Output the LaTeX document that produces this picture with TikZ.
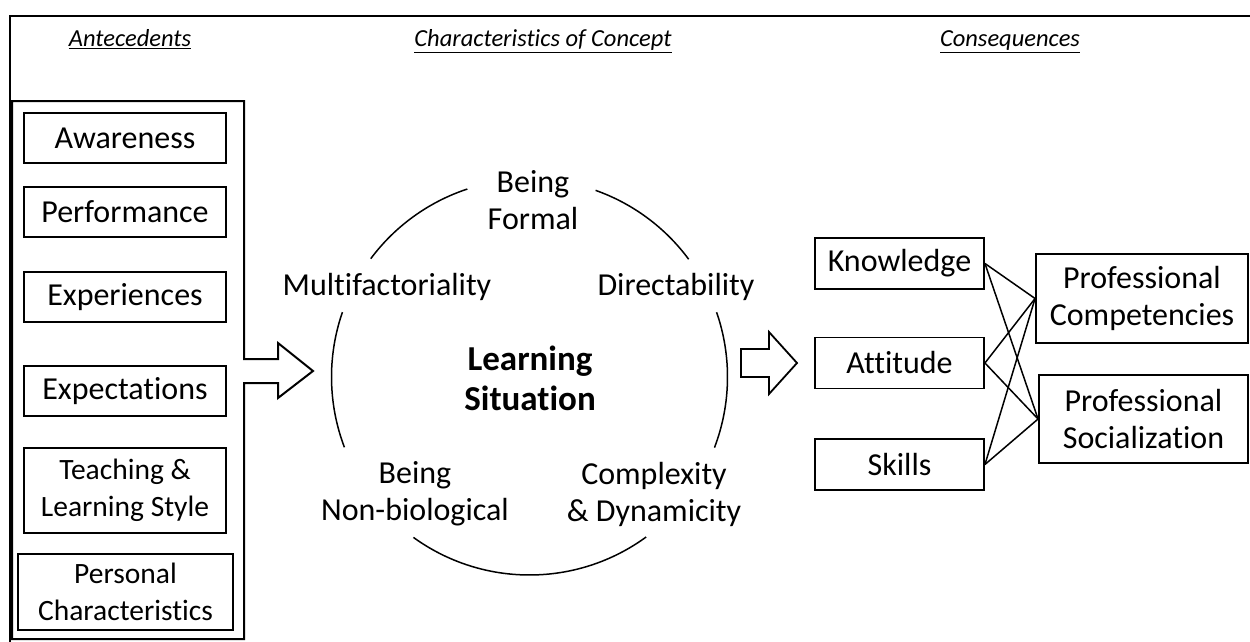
\documentclass[tikz,border=0pt]{standalone}
\usepackage{fontspec}
\setmainfont{Carlito}[Ligatures=NoCommon]
\begin{document}
\begin{tikzpicture}[x=1pt,y=-1pt,
  box/.style={draw, line width=1.9pt, inner sep=0pt, align=center, font=\fontsize{32}{37}\selectfont},
  boxs/.style={box, font=\fontsize{29.5}{37}\selectfont},
  lbl/.style={inner sep=0pt, align=center, font=\fontsize{32}{37}\selectfont},
  hdr/.style={inner sep=0pt, anchor=base, font=\fontsize{24.5}{28}\selectfont\itshape},
  arcline/.style={line width=1.5pt},
  link/.style={line width=1.5pt},
  blockarrow/.style={draw, line width=1.8pt, fill=white, line join=miter}]

\useasboundingbox (0,0) rectangle (1250,642);

% outer frame (top and left)
\draw[line width=2.8pt] (1250,16) -- (10,16) -- (10,642);

% headers
\node[hdr] (h1) at (130,46.5) {\underline{Antecedents}};
\node[hdr] (h2) at (543,46.5) {\underline{Characteristics of Concept}};
\node[hdr] (h3) at (1010,46.5) {\underline{Consequences}};

% antecedents container with block arrow
\draw[line width=2pt, line join=miter, fill=white]
  (244,359) -- (244,101) -- (12,101) -- (12,639) -- (244,639) -- (244,383)
  -- (278,383) -- (278,398) -- (313,371) -- (278,343) -- (278,359) -- cycle;

% antecedent items
\node[box, minimum width=202pt, minimum height=50pt] (aw) at (125,138) {Awareness};
\node[box, minimum width=202pt, minimum height=50pt] (pf) at (125,212) {Performance};
\node[box, minimum width=202pt, minimum height=50pt] (ex) at (125,297) {Experiences};
\node[box, minimum width=202pt, minimum height=50pt] (ep) at (125,391) {Expectations};
\node[boxs, minimum width=202pt, minimum height=85pt] (tl) at (125,490.5) {Teaching \&\\Learning Style};
\node[boxs, minimum width=215pt, minimum height=76pt] (pc0) at (125.5,592) {Personal\\Characteristics};

% circle of characteristics
\coordinate (c) at (529.5,377);
\draw[arcline] (c) ++(-108.3:198) arc[start angle=-108.3, end angle=-143.3, radius=198];
\draw[arcline] (c) ++(-70.5:198) arc[start angle=-70.5, end angle=-36.5, radius=198];
\draw[arcline] (c) ++(-160.9:198) arc[start angle=-160.9, end angle=-200.8, radius=198];
\draw[arcline] (c) ++(-19.1:198) arc[start angle=-19.1, end angle=20.9, radius=198];
\draw[arcline] (c) ++(-234.1:198) arc[start angle=-234.1, end angle=-306.1, radius=198];

\node[lbl] (bf) at (533,200) {Being\\Formal};
\node[lbl] (mf) at (387,287) {Multifactoriality};
\node[lbl] (dr) at (676,287) {Directability};
\node[lbl] (nb) at (415,494) {Being\\Non-biological};
\node[lbl] (cd) at (654,494) {Complexity\\\& Dynamicity};
\node[inner sep=0pt, align=center, font=\fontsize{35}{40}\selectfont\bfseries] (ls) at (530,378) {Learning\\Situation};

% right block arrow
\draw[blockarrow] (741,349) -- (769,349) -- (769,332) -- (797,363) -- (769,394) -- (769,377) -- (741,377) -- cycle;

% consequences
\node[box, minimum width=169pt, minimum height=51pt] (k) at (899.5,263.5) {Knowledge};
\node[box, minimum width=169pt, minimum height=51pt] (a) at (899.5,363) {Attitude};
\node[box, minimum width=169pt, minimum height=51pt] (s) at (899.5,464.5) {Skills};
\node[box, minimum width=212pt, minimum height=89pt] (pc) at (1142,298.5) {Professional\\Competencies};
\node[box, minimum width=209pt, minimum height=88pt] (ps) at (1143.5,419) {Professional\\Socialization};

\foreach \u in {k,a,s}
  \foreach \v in {pc,ps}
    \draw[link] (\u.east) -- (\v.west);
\end{tikzpicture}
\end{document}
